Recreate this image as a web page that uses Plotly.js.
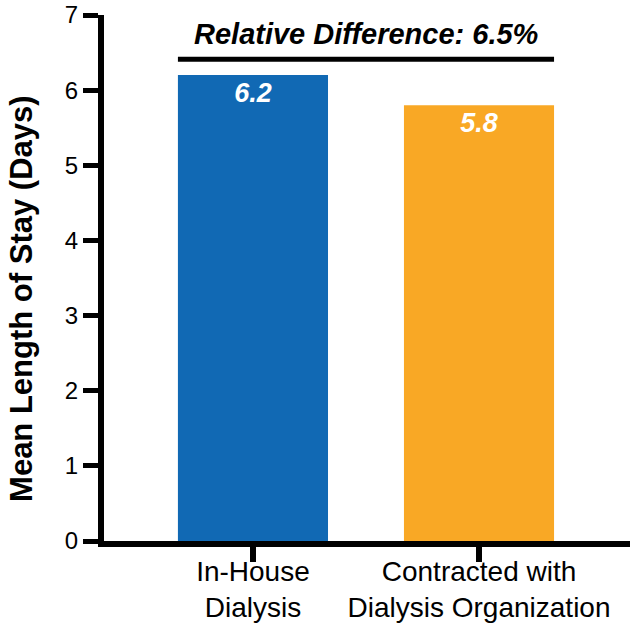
<!DOCTYPE html>
<html>
<head>
<meta charset="utf-8">
<script src="https://cdn.plot.ly/plotly-3.0.1.min.js"></script>
<style>
  html, body { margin: 0; padding: 0; background: #fff; }
  #chart { width: 635px; height: 624px; }
</style>
</head>
<body>
<div id="chart"></div>
<script>
// Mean length of stay by dialysis arrangement
const categories = ["In-House<br>Dialysis", "Contracted with<br>Dialysis Organization"];
const meanStay = [6.2, 5.8];
const barColors = ["#1169b4", "#f9a825"];
const yTicks = [0, 1, 2, 3, 4, 5, 6, 7];
const yTitle = "Mean Length of Stay (Days)";

const FONT = '"Liberation Sans", Arial, Helvetica, sans-serif';
const BAR_WIDTH = 0.664;
const xIdx = categories.map((_, i) => i);

// relative difference between the two means, in percent
const relDiff = ((meanStay[0] - meanStay[1]) / meanStay[0] * 100).toFixed(1);

const trace = {
  type: "bar",
  x: xIdx,
  y: meanStay,
  width: BAR_WIDTH,
  marker: { color: barColors, line: { width: 0 } },
  text: meanStay.map(v => v.toFixed(1)),
  texttemplate: "<i><b>%{text}</b></i>",
  textposition: "inside",
  insidetextanchor: "end",
  constraintext: "none",
  insidetextfont: { family: FONT, size: 27, color: "#ffffff" },
  hoverinfo: "skip"
};

const bracketY = 6.41;
const layout = {
  width: 635,
  height: 624,
  margin: { l: 104, r: 5, t: 15, b: 83 },
  paper_bgcolor: "#ffffff",
  plot_bgcolor: "#ffffff",
  showlegend: false,
  font: { family: FONT, color: "#000000" },
  xaxis: {
    range: [-0.659, 1.668],
    tickmode: "array",
    tickvals: xIdx,
    ticktext: categories,
    tickfont: { family: FONT, size: 28, color: "#000" },
    ticks: "outside",
    ticklen: 15,
    tickwidth: 6,
    tickcolor: "#000",
    ticklabelstandoff: -15,
    showline: true,
    linewidth: 6,
    linecolor: "#000",
    showgrid: false,
    zeroline: false,
    fixedrange: true
  },
  yaxis: {
    range: [0, 7],
    tickmode: "array",
    tickvals: yTicks,
    ticktext: yTicks.map(String),
    tickfont: { family: FONT, size: 24, color: "#000" },
    ticks: "outside",
    ticklen: 15,
    tickwidth: 5,
    tickcolor: "#000",
    ticklabelstandoff: 0,
    showline: true,
    linewidth: 6,
    linecolor: "#000",
    showgrid: false,
    zeroline: false,
    fixedrange: true
  },
  shapes: [{
    type: "line",
    xref: "x", yref: "y",
    x0: 0 - BAR_WIDTH / 2, x1: 1 + BAR_WIDTH / 2,
    y0: bracketY, y1: bracketY,
    line: { color: "#000", width: 5 }
  }],
  annotations: [{
    xref: "x", yref: "y",
    x: 0.5, y: bracketY,
    yanchor: "bottom",
    yshift: 7,
    showarrow: false,
    text: "<b><i>Relative Difference: " + relDiff + "%</i></b>",
    font: { family: FONT, size: 29, color: "#000" }
  }, {
    // vertical axis title
    xref: "paper", yref: "paper",
    x: -0.156, y: 0.462,
    xanchor: "center", yanchor: "middle",
    textangle: -90,
    showarrow: false,
    text: "<b>" + yTitle + "</b>",
    font: { family: FONT, size: 31, color: "#000" }
  }]
};

Plotly.newPlot("chart", [trace], layout, { displayModeBar: false, staticPlot: true });
</script>
</body>
</html>
